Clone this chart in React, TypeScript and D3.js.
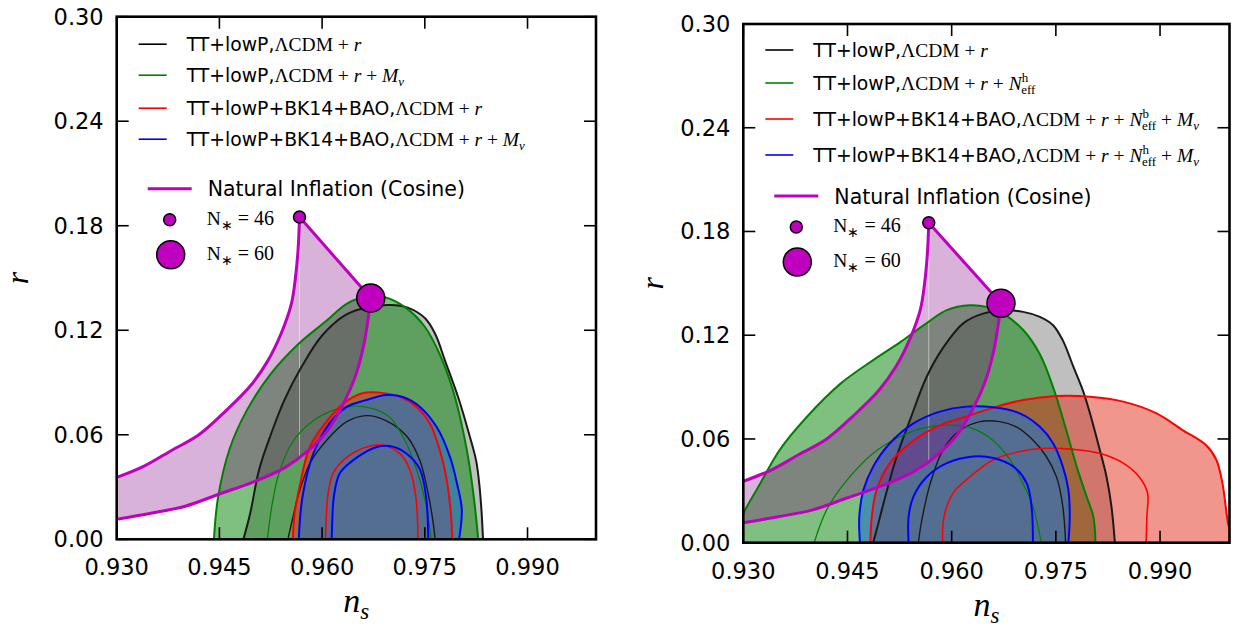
import React from "react";
import * as d3 from "d3";

type Pt = [number, number];

const xTicks = [0.93, 0.945, 0.96, 0.975, 0.99];
const yTicks = [0, 0.06, 0.12, 0.18, 0.24, 0.3];

// natural inflation (cosine) tracks, N*=46 and N*=60
const n46Ns = [0.93, 0.934, 0.938, 0.942, 0.946, 0.9495, 0.952, 0.954, 0.9555, 0.9561, 0.9565, 0.9567];
const n46R = [0.0355, 0.042, 0.051, 0.06, 0.074, 0.088, 0.102, 0.118, 0.135, 0.15, 0.167, 0.185];
const n60Ns = [0.93, 0.935, 0.94, 0.945, 0.95, 0.9545, 0.958, 0.9607, 0.963, 0.9648, 0.966, 0.9667, 0.9671];
const n60R = [0.0115, 0.015, 0.019, 0.026, 0.033, 0.041, 0.051, 0.062, 0.077, 0.093, 0.11, 0.126, 0.1385];

// left panel contours (2 sigma / 1 sigma)
const lBlack2: Pt[] = [[0.9485, 0], [0.9495, 0.015], [0.9508, 0.04], [0.9525, 0.06], [0.9545, 0.08], [0.957, 0.099], [0.96, 0.117], [0.9635, 0.129], [0.967, 0.1335], [0.97, 0.1345], [0.9725, 0.133], [0.975, 0.127], [0.9765, 0.118], [0.978, 0.102], [0.98, 0.08], [0.9815, 0.06], [0.9825, 0.045], [0.983, 0.03], [0.9833, 0.015], [0.9835, 0]];
const lBlack1: Pt[] = [[0.955, 0], [0.9557, 0.012], [0.9565, 0.025], [0.9582, 0.0435], [0.9607, 0.057], [0.9636, 0.0675], [0.9665, 0.071], [0.9694, 0.068], [0.9724, 0.059], [0.9743, 0.045], [0.9755, 0.026], [0.9762, 0.01], [0.9765, 0]];
const lGreen2: Pt[] = [[0.9442, 0], [0.9448, 0.024], [0.9465, 0.052], [0.949, 0.074], [0.9525, 0.095], [0.9565, 0.112], [0.9605, 0.125], [0.9637, 0.1355], [0.9667, 0.1395], [0.9692, 0.139], [0.9722, 0.133], [0.975, 0.122], [0.9772, 0.106], [0.9793, 0.083], [0.9811, 0.052], [0.9821, 0.026], [0.9828, 0]];
const lGreen1: Pt[] = [[0.952, 0], [0.9527, 0.02], [0.9537, 0.038], [0.9557, 0.056], [0.9587, 0.068], [0.9616, 0.074], [0.9645, 0.0765], [0.9674, 0.075], [0.9699, 0.07], [0.9718, 0.059], [0.9738, 0.04], [0.9752, 0.019], [0.9759, 0]];
const lRed2: Pt[] = [[0.9557, 0], [0.956, 0.015], [0.9567, 0.03], [0.9582, 0.053], [0.9607, 0.068], [0.9631, 0.078], [0.966, 0.084], [0.9684, 0.0842], [0.9714, 0.0818], [0.9738, 0.076], [0.9757, 0.0667], [0.9772, 0.051], [0.9782, 0.034], [0.9788, 0.015], [0.979, 0]];
const lRed1: Pt[] = [[0.9605, 0], [0.9606, 0.012], [0.9608, 0.024], [0.9616, 0.038], [0.9636, 0.047], [0.9665, 0.053], [0.9689, 0.054], [0.9714, 0.049], [0.9728, 0.04], [0.9737, 0.024], [0.974, 0]];
const lBlue2: Pt[] = [[0.9566, 0], [0.9568, 0.013], [0.9572, 0.026], [0.9587, 0.049], [0.9611, 0.0665], [0.9636, 0.076], [0.9665, 0.08], [0.9694, 0.0828], [0.9718, 0.0817], [0.9743, 0.076], [0.9768, 0.064], [0.9787, 0.047], [0.9797, 0.032], [0.9804, 0.017], [0.98, 0]];
const lBlue1: Pt[] = [[0.9614, 0], [0.9615, 0.012], [0.9617, 0.024], [0.9626, 0.038], [0.9651, 0.047], [0.968, 0.053], [0.9699, 0.0535], [0.9724, 0.049], [0.9743, 0.04], [0.9752, 0.024], [0.9755, 0]];

// right panel contours
const rBlack2: Pt[] = [[0.9487, 0], [0.9495, 0.012], [0.9502, 0.023], [0.9521, 0.05], [0.954, 0.071], [0.9564, 0.096], [0.9588, 0.113], [0.9617, 0.127], [0.9645, 0.1325], [0.9674, 0.1344], [0.9703, 0.1335], [0.9727, 0.1306], [0.9746, 0.1258], [0.976, 0.117], [0.9775, 0.102], [0.9789, 0.088], [0.9799, 0.075], [0.9813, 0.054], [0.9823, 0.038], [0.983, 0.021], [0.9835, 0]];
const rBlack1: Pt[] = [[0.9552, 0], [0.9557, 0.013], [0.9569, 0.034], [0.9588, 0.054], [0.9612, 0.065], [0.9641, 0.07], [0.9669, 0.07], [0.9693, 0.067], [0.9717, 0.0594], [0.9736, 0.05], [0.9751, 0.038], [0.976, 0.021], [0.9764, 0]];
const rGreen2: Pt[] = [[0.928, 0], [0.929, 0.008], [0.93, 0.017], [0.9324, 0.034], [0.9353, 0.054], [0.9392, 0.073], [0.944, 0.092], [0.9487, 0.1056], [0.9526, 0.116], [0.9564, 0.127], [0.9593, 0.1345], [0.9626, 0.1373], [0.965, 0.1364], [0.9674, 0.1325], [0.9703, 0.123], [0.9727, 0.109], [0.9746, 0.09], [0.9765, 0.065], [0.978, 0.044], [0.9794, 0.027], [0.9804, 0.015], [0.9807, 0]];
const rGreen1: Pt[] = [[0.9402, 0], [0.942, 0.019], [0.9449, 0.036], [0.9487, 0.0517], [0.9526, 0.0614], [0.9564, 0.0667], [0.9602, 0.068], [0.9631, 0.066], [0.966, 0.059], [0.9684, 0.048], [0.9703, 0.034], [0.9717, 0.021], [0.9729, 0]];
const rRed2: Pt[] = [[0.9483, 0], [0.9485, 0.015], [0.9492, 0.0306], [0.9511, 0.046], [0.954, 0.0575], [0.9578, 0.067], [0.9621, 0.073], [0.9665, 0.0787], [0.9703, 0.0825], [0.9751, 0.0848], [0.9799, 0.0844], [0.9847, 0.0816], [0.9895, 0.0748], [0.9933, 0.065], [0.9966, 0.0565], [0.9981, 0.048], [0.999, 0.034], [0.9998, 0.011], [1.0005, 0]];
const rRed1: Pt[] = [[0.9587, 0], [0.9589, 0.015], [0.9602, 0.0287], [0.9626, 0.038], [0.966, 0.048], [0.9698, 0.0527], [0.9736, 0.0546], [0.9775, 0.054], [0.9813, 0.0517], [0.9847, 0.046], [0.987, 0.038], [0.9882, 0.0287], [0.9881, 0.015], [0.988, 0]];
const rBlue2: Pt[] = [[0.9468, 0], [0.9467, 0.015], [0.9473, 0.0306], [0.9487, 0.044], [0.9511, 0.0575], [0.9545, 0.069], [0.9583, 0.0758], [0.9621, 0.0787], [0.966, 0.0783], [0.9698, 0.0748], [0.9727, 0.067], [0.9746, 0.0575], [0.976, 0.044], [0.9768, 0.0306], [0.977, 0.015], [0.9768, 0]];
const rBlue1: Pt[] = [[0.9538, 0], [0.9538, 0.015], [0.9545, 0.0267], [0.9564, 0.038], [0.9593, 0.046], [0.9631, 0.0498], [0.966, 0.049], [0.9689, 0.044], [0.9708, 0.0344], [0.9715, 0.021], [0.9717, 0]];

type Seg = { t: string; f?: "sans" | "rm" | "it"; sh?: number; sz?: number; dx?: number };
const S = (t: string): Seg => ({ t, f: "sans" });
const R = (t: string): Seg => ({ t, f: "rm" });
const I = (t: string): Seg => ({ t, f: "it" });
const sub = (t: string, f: "rm" | "it" = "it", dx?: number): Seg => ({ t, f, sh: 4.5, sz: 13, dx });
const sup = (t: string): Seg => ({ t, f: "rm", sh: -8, sz: 13 });

const base: Seg[] = [R("ΛCDM"), R(" + "), I("r")];
const leftLabels: Seg[][] = [
  [S("TT+lowP,"), ...base],
  [S("TT+lowP,"), ...base, R(" + "), I("M"), sub("ν")],
  [S("TT+lowP+BK14+BAO,"), ...base],
  [S("TT+lowP+BK14+BAO,"), ...base, R(" + "), I("M"), sub("ν")],
];
const rightLabels: Seg[][] = [
  [S("TT+lowP,"), ...base],
  [S("TT+lowP,"), ...base, R(" + "), I("N"), sup("h"), sub("eff", "rm", -7)],
  [S("TT+lowP+BK14+BAO,"), ...base, R(" + "), I("N"), sup("b"), sub("eff", "rm", -7), R(" + "), I("M"), sub("ν")],
  [S("TT+lowP+BK14+BAO,"), ...base, R(" + "), I("N"), sup("h"), sub("eff", "rm", -7), R(" + "), I("M"), sub("ν")],
];
const lineColors = ["#000000", "#008000", "#ff0000", "#0000ff"];

const styles = [
  { fill: "#808080", op: 0.5, stroke: "#1a1a1a", w: [2, 1.4] },
  { fill: "#008000", op: 0.5, stroke: "#008000", w: [2, 1.2] },
  { fill: "rgb(225,45,25)", op: 0.5, stroke: "#ff0000", w: [2, 1.6] },
  { fill: "rgb(33,115,203)", op: 0.6, stroke: "#0000ff", w: [2, 2] },
];

const SANS = "DejaVu Sans";
const SERIF = "Liberation Serif";

function Label({ x, y, segs }: { x: number; y: number; segs: Seg[] }) {
  let prev = 0;
  return (
    <text x={x} y={y} style={{ whiteSpace: "pre" }}>
      {segs.map((s, i) => {
        const sh = s.sh || 0;
        const dy = sh - prev;
        prev = sh;
        return (
          <tspan
            key={i}
            dy={dy}
            dx={s.dx}
            fontFamily={s.f === "sans" ? SANS : SERIF}
            fontStyle={s.f === "it" ? "italic" : "normal"}
            fontSize={s.sz || (s.f === "sans" ? 18.8 : 19.5)}
          >
            {s.t}
          </tspan>
        );
      })}
    </text>
  );
}

function Panel({ id, box, sets, labels, entryDy, rDx }: any) {
  const [L, Rr, T, B] = box;
  const x = d3.scaleLinear().domain([0.93, 1.0]).range([L, Rr]);
  const y = d3.scaleLinear().domain([0, 0.3]).range([B, T]);
  const line = d3
    .line<Pt>()
    .x((d) => x(d[0]))
    .y((d) => y(d[1]))
    .curve(d3.curveCatmullRom.alpha(0.5));
  const n46 = d3.zip(n46Ns, n46R) as Pt[];
  const n60 = d3.zip(n60Ns, n60R) as Pt[];
  const p46 = n46[n46.length - 1];
  const p60 = n60[n60.length - 1];
  const purpleFill = line(n46)! + line([...n60].reverse())!.replace(/^M/, "L") + "Z";
  const interp60 = d3.scaleLinear().domain(n60Ns).range(n60R);
  const fx = d3.format(".3f");
  const fy = d3.format(".2f");

  return (
    <g>
      <defs>
        <clipPath id={id}>
          <rect x={L} y={T} width={Rr - L} height={B - T} />
        </clipPath>
      </defs>
      <g clipPath={`url(#${id})`}>
        {sets.map((s: Pt[][], i: number) => (
          <path key={"f" + i} d={line(s[0])! + "Z"} fill={styles[i].fill} fillOpacity={styles[i].op} stroke="none" />
        ))}
        <path d={purpleFill} fill="#7d007d" fillOpacity={0.3} />
        <line x1={x(p46[0])} x2={x(p46[0])} y1={y(p46[1])} y2={y(interp60(p46[0]))} stroke="#fff" strokeOpacity={0.45} strokeWidth={1} />
        {sets.map((s: Pt[][], i: number) => (
          <g key={"l" + i} fill="none" stroke={styles[i].stroke}>
            <path d={line(s[0])!} strokeWidth={styles[i].w[0]} />
            <path d={line(s[1])!} strokeWidth={styles[i].w[1]} />
          </g>
        ))}
        <g fill="none" stroke="#bf00bf" strokeWidth={3}>
          <path d={line(n46)!} />
          <path d={line(n60)!} />
          <line x1={x(p46[0])} y1={y(p46[1])} x2={x(p60[0])} y2={y(p60[1])} />
        </g>
      </g>
      <circle cx={x(p46[0])} cy={y(p46[1])} r={6} fill="#bf00bf" stroke="#000" strokeWidth={1.5} />
      <circle cx={x(p60[0])} cy={y(p60[1])} r={14} fill="#bf00bf" stroke="#000" strokeWidth={1.5} />

      {/* ticks */}
      <g stroke="#000" strokeWidth={1.6}>
        {xTicks.map((t) => (
          <g key={t}>
            <line x1={x(t)} x2={x(t)} y1={B} y2={B - 12} />
            <line x1={x(t)} x2={x(t)} y1={T} y2={T + 12} />
          </g>
        ))}
        {yTicks.map((t) => (
          <g key={t}>
            <line x1={L} x2={L + 12} y1={y(t)} y2={y(t)} />
            <line x1={Rr} x2={Rr - 12} y1={y(t)} y2={y(t)} />
          </g>
        ))}
      </g>
      <rect x={L} y={T} width={Rr - L} height={B - T} fill="none" stroke="#000" strokeWidth={2.6} />
      <g fontFamily={SANS} fontSize={22.5} fill="#000">
        {xTicks.map((t) => (
          <text key={t} x={x(t)} y={B + 36} textAnchor="middle">
            {fx(t)}
          </text>
        ))}
        {yTicks.map((t) => (
          <text key={t} x={L - 13} y={y(t) + 8} textAnchor="end">
            {fy(t)}
          </text>
        ))}
      </g>
      <text x={(L + Rr) / 2} y={B + 73} textAnchor="middle" fontFamily={SERIF} fontStyle="italic" fontSize={34}>
        n<tspan fontSize={23} dy={7}>s</tspan>
      </text>
      <text transform={`translate(${L - rDx},${(T + B) / 2}) rotate(-90)`} textAnchor="middle" fontFamily={SERIF} fontStyle="italic" fontSize={32}>
        r
      </text>

      {/* legends */}
      {labels.map((segs: Seg[], i: number) => (
        <g key={"lg" + i}>
          <line x1={L + 22} x2={L + 50} y1={T + entryDy[i]} y2={T + entryDy[i]} stroke={lineColors[i]} strokeWidth={1.6} />
          <Label x={L + 70} y={T + entryDy[i] + 6.5} segs={segs} />
        </g>
      ))}
      <line x1={L + 31} x2={L + 75} y1={T + 172} y2={T + 172} stroke="#bf00bf" strokeWidth={3} />
      <text x={L + 91} y={T + 179.5} fontFamily={SANS} fontSize={20.5}>
        Natural Inflation (Cosine)
      </text>
      <circle cx={L + 53} cy={T + 203} r={6} fill="#bf00bf" stroke="#000" strokeWidth={1.5} />
      <circle cx={L + 54} cy={T + 238} r={14} fill="#bf00bf" stroke="#000" strokeWidth={1.5} />
      <Label x={L + 90} y={T + 208} segs={[R("N"), { t: "∗", f: "rm", sh: 5, sz: 14 }, { t: " = 46", f: "rm", sz: 20 }]} />
      <Label x={L + 90} y={T + 243} segs={[R("N"), { t: "∗", f: "rm", sh: 5, sz: 14 }, { t: " = 60", f: "rm", sz: 20 }]} />
    </g>
  );
}

export default function App() {
  return (
    <svg width={1235} height={627} style={{ position: "absolute", left: 0, top: 0, background: "#fff" }}>
      <Panel
        id="clipL"
        box={[116.7, 596, 16.7, 539.3]}
        sets={[[lBlack2, lBlack1], [lGreen2, lGreen1], [lRed2, lRed1], [lBlue2, lBlue1]]}
        labels={leftLabels}
        entryDy={[27.5, 58.5, 91.5, 122.5]}
        rDx={89}
      />
      <Panel
        id="clipR"
        box={[743.3, 1229.5, 24, 542.7]}
        sets={[[rBlack2, rBlack1], [rGreen2, rGreen1], [rRed2, rRed1], [rBlue2, rBlue1]]}
        labels={rightLabels}
        entryDy={[26, 59, 95, 131]}
        rDx={80}
      />
    </svg>
  );
}
